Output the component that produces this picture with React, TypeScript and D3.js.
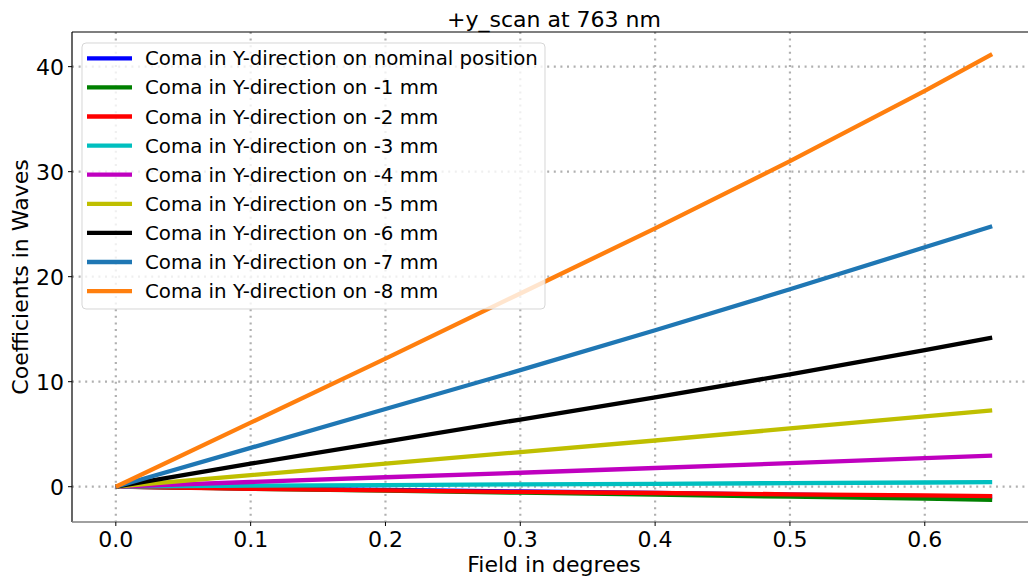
import React from "react";
import * as d3 from "d3";

// field angles (degrees) where the coefficients were read
const fields = [0, 0.1, 0.2, 0.3, 0.4, 0.5, 0.6, 0.65];

const nominal = [0, -0.15, -0.3, -0.45, -0.6, -0.75, -0.9, -0.98];
const minus1 = [0, -0.19, -0.38, -0.57, -0.76, -0.95, -1.14, -1.24];
const minus2 = [0, -0.2, -0.35, -0.5, -0.6, -0.72, -0.83, -0.89];
const minus3 = [0, 0.1, 0.15, 0.22, 0.28, 0.34, 0.4, 0.44];
const minus4 = [0, 0.45, 0.9, 1.33, 1.78, 2.25, 2.72, 2.97];
const minus5 = [0, 1.1, 2.2, 3.3, 4.4, 5.55, 6.7, 7.27];
const minus6 = [0, 2.2, 4.3, 6.4, 8.5, 10.7, 13.0, 14.2];
const minus7 = [0, 3.7, 7.4, 11.1, 14.9, 18.8, 22.8, 24.8];
const minus8 = [0, 6.1, 12.2, 18.4, 24.6, 31.0, 37.7, 41.2];

const seriesNames = [
  "Coma in Y-direction on nominal position",
  "Coma in Y-direction on -1 mm",
  "Coma in Y-direction on -2 mm",
  "Coma in Y-direction on -3 mm",
  "Coma in Y-direction on -4 mm",
  "Coma in Y-direction on -5 mm",
  "Coma in Y-direction on -6 mm",
  "Coma in Y-direction on -7 mm",
  "Coma in Y-direction on -8 mm",
];
const seriesValues = [nominal, minus1, minus2, minus3, minus4, minus5, minus6, minus7, minus8];
const seriesColors = ["#0000ff", "#008000", "#ff0000", "#00bfbf", "#bf00bf", "#bfbf00", "#000000", "#1f77b4", "#ff7f0e"];

const xTicks = [0, 0.1, 0.2, 0.3, 0.4, 0.5, 0.6];
const yTicks = [0, 10, 20, 30, 40];

const font = "'DejaVu Sans', sans-serif";

export default function App() {
  const width = 1028;
  const height = 580;
  const left = 72;
  const right = 1036;
  const top = 32;
  const bottom = 522;

  const x = d3.scaleLinear().domain([-0.0325, 0.6825]).range([left, right]);
  const y = d3.scaleLinear().domain([-3.36, 43.3]).range([bottom, top]);

  const line = d3
    .line<number>()
    .x((_, i) => x(fields[i]))
    .y((d) => y(d));

  const grid = "#b0b0b0";
  const dash = "2,4.6";

  // legend placement
  const lgX = 82;
  const lgY = 43;
  const lgW = 463;
  const lgH = 266;
  const rowStep = 29.1;
  const firstRow = 58.3;

  return (
    <svg
      width={width}
      height={height}
      style={{ position: "absolute", left: 0, top: 0, background: "#fff" }}
      fontFamily={font}
    >
      <defs>
        <clipPath id="plotArea">
          <rect x={left} y={top} width={right - left} height={bottom - top} />
        </clipPath>
      </defs>

      {/* grid */}
      <g>
        {xTicks.map((t) => (
          <line key={"gx" + t} x1={x(t)} x2={x(t)} y1={top} y2={bottom} stroke={grid} strokeWidth={2.2} strokeDasharray={dash} />
        ))}
        {yTicks.map((t) => (
          <line key={"gy" + t} x1={left} x2={right} y1={y(t)} y2={y(t)} stroke={grid} strokeWidth={2.2} strokeDasharray={dash} />
        ))}
      </g>

      {/* series */}
      <g clipPath="url(#plotArea)">
        {seriesValues.map((vals, i) => (
          <path key={seriesNames[i]} d={line(vals) ?? ""} fill="none" stroke={seriesColors[i]} strokeWidth={4.3} strokeLinejoin="round" />
        ))}
      </g>

      {/* spines */}
      <line x1={left} x2={left} y1={top} y2={bottom} stroke="#000" strokeWidth={1.2} />
      <line x1={left} x2={right} y1={top} y2={top} stroke="#000" strokeWidth={1.2} />
      <line x1={left} x2={right} y1={bottom} y2={bottom} stroke="#808080" strokeWidth={1.5} />

      {/* x ticks */}
      {xTicks.map((t) => (
        <g key={"xt" + t}>
          <line x1={x(t)} x2={x(t)} y1={bottom} y2={bottom + 4} stroke="#000" strokeWidth={1} />
          <text x={x(t)} y={547} fontSize={22} textAnchor="middle" fill="#000">
            {t.toFixed(1)}
          </text>
        </g>
      ))}

      {/* y ticks */}
      {yTicks.map((t) => (
        <g key={"yt" + t}>
          <line x1={left - 4} x2={left} y1={y(t)} y2={y(t)} stroke="#000" strokeWidth={1} />
          <text x={64} y={y(t) + 8} fontSize={22} textAnchor="end" fill="#000">
            {t}
          </text>
        </g>
      ))}

      {/* labels */}
      <text x={(left + right) / 2} y={27} fontSize={22} textAnchor="middle" fill="#000">
        +y_scan at 763 nm
      </text>
      <text x={(left + right) / 2} y={572} fontSize={22} textAnchor="middle" fill="#000">
        Field in degrees
      </text>
      <text
        transform={`translate(28,${(top + bottom) / 2}) rotate(-90)`}
        fontSize={22}
        textAnchor="middle"
        fill="#000"
      >
        Coefficients in Waves
      </text>

      {/* legend */}
      <g>
        <rect x={lgX} y={lgY} width={lgW} height={lgH} rx={4} fill="#fff" fillOpacity={0.8} stroke="#cccccc" strokeOpacity={0.8} strokeWidth={1} />
        {seriesNames.map((name, i) => {
          const cy = firstRow + i * rowStep;
          return (
            <g key={"lg" + i}>
              <line x1={87} x2={132} y1={cy} y2={cy} stroke={seriesColors[i]} strokeWidth={4.3} />
              <text x={145} y={cy + 7} fontSize={19.8} fill="#000">
                {name}
              </text>
            </g>
          );
        })}
      </g>
    </svg>
  );
}
